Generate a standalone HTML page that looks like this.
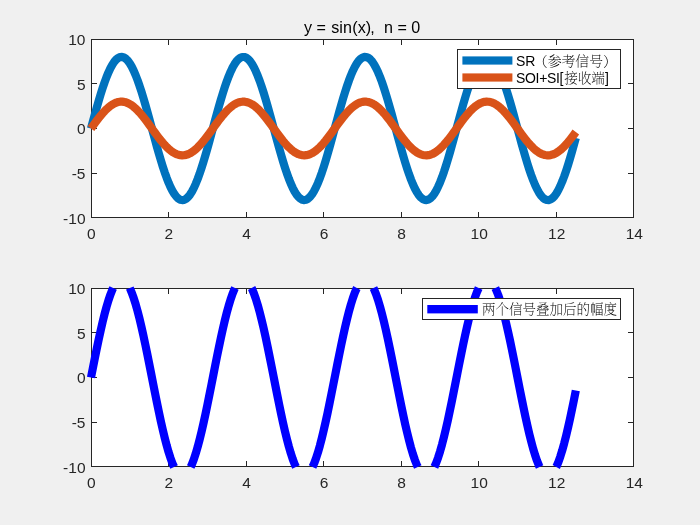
<!DOCTYPE html>
<html lang="zh"><head><meta charset="utf-8"><title>y = sin(x), n = 0</title>
<style>
html,body{margin:0;padding:0;background:#f0f0f0;}
body{width:700px;height:525px;overflow:hidden;}
svg{display:block;}
text{font-family:"Liberation Sans","Noto Serif CJK SC",sans-serif;fill:#262626;}
.tk text{font-size:15.5px;}
.tt{font-size:16.13px;fill:#000;}
.lg{font-size:14px;fill:#000;}
.cj{font-family:"Noto Serif CJK SC","Liberation Sans",serif;font-weight:200;font-size:14px;}
</style></head><body>
<svg width="700" height="525" viewBox="0 0 700 525">
<rect width="700" height="525" fill="#f0f0f0"/>
<rect x="91" y="39" width="543" height="179" fill="#fff"/>
<g fill="#262626" shape-rendering="crispEdges">
<rect x="91" y="39" width="543" height="1"/>
<rect x="91" y="217" width="543" height="1"/>
<rect x="91" y="39" width="1" height="179"/>
<rect x="633" y="39" width="1" height="179"/>
<rect x="168" y="212" width="1" height="5"/>
<rect x="168" y="40" width="1" height="5"/>
<rect x="246" y="212" width="1" height="5"/>
<rect x="246" y="40" width="1" height="5"/>
<rect x="323" y="212" width="1" height="5"/>
<rect x="323" y="40" width="1" height="5"/>
<rect x="401" y="212" width="1" height="5"/>
<rect x="401" y="40" width="1" height="5"/>
<rect x="478" y="212" width="1" height="5"/>
<rect x="478" y="40" width="1" height="5"/>
<rect x="556" y="212" width="1" height="5"/>
<rect x="556" y="40" width="1" height="5"/>
<rect x="92" y="173" width="5" height="1"/>
<rect x="628" y="173" width="5" height="1"/>
<rect x="92" y="128" width="5" height="1"/>
<rect x="628" y="128" width="5" height="1"/>
<rect x="92" y="83" width="5" height="1"/>
<rect x="628" y="83" width="5" height="1"/>
</g>
<g fill="none" stroke-linejoin="round" stroke-linecap="butt">
<path d="M91.00 128.50 L92.94 121.35 L94.88 114.28 L96.82 107.34 L98.76 100.62 L100.70 94.17 L102.64 88.07 L104.58 82.37 L106.51 77.14 L108.45 72.41 L110.39 68.25 L112.33 64.69 L114.27 61.77 L116.21 59.51 L118.15 57.94 L120.09 57.08 L122.03 56.93 L123.97 57.50 L125.91 58.77 L127.85 60.74 L129.79 63.39 L131.72 66.69 L133.66 70.61 L135.60 75.11 L137.54 80.14 L139.48 85.65 L141.42 91.59 L143.36 97.90 L145.30 104.51 L147.24 111.37 L149.18 118.40 L151.12 125.52 L153.06 132.68 L155.00 139.79 L156.94 146.80 L158.88 153.62 L160.81 160.18 L162.75 166.44 L164.69 172.31 L166.63 177.74 L168.57 182.69 L170.51 187.09 L172.45 190.90 L174.39 194.10 L176.33 196.63 L178.27 198.49 L180.21 199.65 L182.15 200.09 L184.09 199.83 L186.03 198.84 L187.96 197.16 L189.90 194.79 L191.84 191.76 L193.78 188.09 L195.72 183.83 L197.66 179.02 L199.60 173.70 L201.54 167.93 L203.48 161.77 L205.42 155.27 L207.36 148.51 L209.30 141.54 L211.24 134.45 L213.18 127.30 L215.11 120.16 L217.05 113.10 L218.99 106.19 L220.93 99.51 L222.87 93.12 L224.81 87.08 L226.75 81.46 L228.69 76.31 L230.63 71.67 L232.57 67.61 L234.51 64.15 L236.45 61.34 L238.39 59.20 L240.33 57.75 L242.26 57.00 L244.20 56.98 L246.14 57.66 L248.08 59.06 L250.02 61.14 L251.96 63.90 L253.90 67.31 L255.84 71.33 L257.78 75.92 L259.72 81.03 L261.66 86.62 L263.60 92.63 L265.54 98.99 L267.48 105.65 L269.41 112.54 L271.35 119.59 L273.29 126.73 L275.23 133.88 L277.17 140.98 L279.11 147.96 L281.05 154.74 L282.99 161.26 L284.93 167.45 L286.87 173.26 L288.81 178.61 L290.75 183.47 L292.69 187.77 L294.62 191.49 L296.56 194.57 L298.50 197.00 L300.44 198.74 L302.38 199.77 L304.32 200.10 L306.26 199.71 L308.20 198.61 L310.14 196.81 L312.08 194.32 L314.02 191.18 L315.96 187.41 L317.90 183.06 L319.84 178.16 L321.77 172.76 L323.71 166.92 L325.65 160.69 L327.59 154.15 L329.53 147.35 L331.47 140.36 L333.41 133.25 L335.35 126.09 L337.29 118.96 L339.23 111.92 L341.17 105.05 L343.11 98.42 L345.05 92.08 L346.99 86.11 L348.93 80.56 L350.86 75.49 L352.80 70.95 L354.74 66.98 L356.68 63.63 L358.62 60.93 L360.56 58.90 L362.50 57.57 L364.44 56.95 L366.38 57.04 L368.32 57.85 L370.26 59.36 L372.20 61.56 L374.14 64.43 L376.07 67.94 L378.01 72.06 L379.95 76.74 L381.89 81.94 L383.83 87.60 L385.77 93.67 L387.71 100.09 L389.65 106.80 L391.59 113.72 L393.53 120.78 L395.47 127.93 L397.41 135.08 L399.35 142.17 L401.29 149.11 L403.23 155.86 L405.16 162.33 L407.10 168.46 L409.04 174.19 L410.98 179.46 L412.92 184.23 L414.86 188.44 L416.80 192.05 L418.74 195.03 L420.68 197.34 L422.62 198.96 L424.56 199.88 L426.50 200.08 L428.44 199.57 L430.38 198.35 L432.31 196.44 L434.25 193.84 L436.19 190.59 L438.13 186.72 L440.07 182.27 L442.01 177.28 L443.95 171.81 L445.89 165.90 L447.83 159.61 L449.77 153.02 L451.71 146.18 L453.65 139.17 L455.59 132.05 L457.53 124.89 L459.46 117.77 L461.40 110.76 L463.34 103.92 L465.28 97.33 L467.22 91.05 L469.16 85.14 L471.10 79.67 L473.04 74.69 L474.98 70.24 L476.92 66.38 L478.86 63.13 L480.80 60.54 L482.74 58.63 L484.68 57.42 L486.61 56.91 L488.55 57.13 L490.49 58.05 L492.43 59.68 L494.37 62.00 L496.31 64.98 L498.25 68.60 L500.19 72.81 L502.13 77.58 L504.07 82.86 L506.01 88.60 L507.95 94.73 L509.89 101.20 L511.83 107.95 L513.76 114.90 L515.70 121.98 L517.64 129.13 L519.58 136.28 L521.52 143.35 L523.46 150.26 L525.40 156.96 L527.34 163.38 L529.28 169.45 L531.22 175.11 L533.16 180.30 L535.10 184.98 L537.04 189.09 L538.98 192.60 L540.91 195.46 L542.85 197.66 L544.79 199.16 L546.73 199.96 L548.67 200.05 L550.61 199.42 L552.55 198.08 L554.49 196.05 L556.43 193.34 L558.37 189.98 L560.31 186.01 L562.25 181.47 L564.19 176.39 L566.12 170.84 L568.06 164.87 L570.00 158.53 L571.94 151.89 L573.88 145.01 L575.82 137.98" stroke="#0072BD" stroke-width="8.2"/>
<path d="M91.00 128.50 L92.94 125.82 L94.88 123.17 L96.82 120.57 L98.76 118.04 L100.70 115.63 L102.64 113.34 L104.58 111.20 L106.51 109.24 L108.45 107.47 L110.39 105.91 L112.33 104.57 L114.27 103.47 L116.21 102.63 L118.15 102.04 L120.09 101.72 L122.03 101.66 L123.97 101.87 L125.91 102.35 L127.85 103.09 L129.79 104.09 L131.72 105.32 L133.66 106.79 L135.60 108.48 L137.54 110.36 L139.48 112.43 L141.42 114.66 L143.36 117.02 L145.30 119.51 L147.24 122.08 L149.18 124.71 L151.12 127.38 L153.06 130.07 L155.00 132.74 L156.94 135.36 L158.88 137.92 L160.81 140.38 L162.75 142.73 L164.69 144.93 L166.63 146.97 L168.57 148.82 L170.51 150.47 L172.45 151.90 L174.39 153.10 L176.33 154.05 L178.27 154.75 L180.21 155.18 L182.15 155.35 L184.09 155.25 L186.03 154.88 L187.96 154.25 L189.90 153.36 L191.84 152.22 L193.78 150.85 L195.72 149.25 L197.66 147.44 L199.60 145.45 L201.54 143.29 L203.48 140.97 L205.42 138.54 L207.36 136.00 L209.30 133.39 L211.24 130.73 L213.18 128.05 L215.11 125.37 L217.05 122.72 L218.99 120.14 L220.93 117.63 L222.87 115.23 L224.81 112.97 L226.75 110.86 L228.69 108.93 L230.63 107.19 L232.57 105.67 L234.51 104.37 L236.45 103.31 L238.39 102.51 L240.33 101.97 L242.26 101.69 L244.20 101.68 L246.14 101.94 L248.08 102.46 L250.02 103.24 L251.96 104.28 L253.90 105.55 L255.84 107.06 L257.78 108.78 L259.72 110.70 L261.66 112.79 L263.60 115.05 L265.54 117.43 L267.48 119.93 L269.41 122.52 L271.35 125.16 L273.29 127.83 L275.23 130.52 L277.17 133.18 L279.11 135.80 L281.05 138.34 L282.99 140.78 L284.93 143.11 L286.87 145.28 L288.81 147.29 L290.75 149.11 L292.69 150.73 L294.62 152.12 L296.56 153.28 L298.50 154.19 L300.44 154.84 L302.38 155.23 L304.32 155.35 L306.26 155.20 L308.20 154.79 L310.14 154.12 L312.08 153.18 L314.02 152.01 L315.96 150.59 L317.90 148.96 L319.84 147.12 L321.77 145.10 L323.71 142.91 L325.65 140.57 L327.59 138.12 L329.53 135.57 L331.47 132.95 L333.41 130.28 L335.35 127.60 L337.29 124.92 L339.23 122.28 L341.17 119.71 L343.11 117.22 L345.05 114.84 L346.99 112.60 L348.93 110.52 L350.86 108.62 L352.80 106.92 L354.74 105.43 L356.68 104.18 L358.62 103.16 L360.56 102.40 L362.50 101.90 L364.44 101.67 L366.38 101.70 L368.32 102.01 L370.26 102.57 L372.20 103.40 L374.14 104.47 L376.07 105.79 L378.01 107.34 L379.95 109.09 L381.89 111.04 L383.83 113.16 L385.77 115.44 L387.71 117.85 L389.65 120.36 L391.59 122.96 L393.53 125.61 L395.47 128.29 L397.41 130.97 L399.35 133.62 L401.29 136.23 L403.23 138.76 L405.16 141.18 L407.10 143.48 L409.04 145.63 L410.98 147.61 L412.92 149.40 L414.86 150.98 L416.80 152.33 L418.74 153.45 L420.68 154.31 L422.62 154.92 L424.56 155.27 L426.50 155.34 L428.44 155.15 L430.38 154.70 L432.31 153.98 L434.25 153.00 L436.19 151.78 L438.13 150.33 L440.07 148.66 L442.01 146.79 L443.95 144.74 L445.89 142.52 L447.83 140.17 L449.77 137.70 L451.71 135.13 L453.65 132.50 L455.59 129.83 L457.53 127.15 L459.46 124.48 L461.40 121.85 L463.34 119.28 L465.28 116.81 L467.22 114.46 L469.16 112.24 L471.10 110.19 L473.04 108.32 L474.98 106.65 L476.92 105.20 L478.86 103.99 L480.80 103.02 L482.74 102.30 L484.68 101.84 L486.61 101.66 L488.55 101.74 L490.49 102.08 L492.43 102.69 L494.37 103.56 L496.31 104.68 L498.25 106.04 L500.19 107.62 L502.13 109.41 L504.07 111.39 L506.01 113.54 L507.95 115.84 L509.89 118.26 L511.83 120.79 L513.76 123.40 L515.70 126.06 L517.64 128.74 L519.58 131.42 L521.52 134.07 L523.46 136.66 L525.40 139.17 L527.34 141.58 L529.28 143.86 L531.22 145.98 L533.16 147.93 L535.10 149.68 L537.04 151.22 L538.98 152.54 L540.91 153.61 L542.85 154.43 L544.79 155.00 L546.73 155.30 L548.67 155.33 L550.61 155.09 L552.55 154.59 L554.49 153.83 L556.43 152.81 L558.37 151.56 L560.31 150.07 L562.25 148.36 L564.19 146.46 L566.12 144.38 L568.06 142.14 L570.00 139.76 L571.94 137.27 L573.88 134.69 L575.82 132.05" stroke="#D95319" stroke-width="8.2"/>
</g>
<g class="tk">
<text x="91.30" y="238.5" text-anchor="middle">0</text>
<text x="168.87" y="238.5" text-anchor="middle">2</text>
<text x="246.44" y="238.5" text-anchor="middle">4</text>
<text x="324.01" y="238.5" text-anchor="middle">6</text>
<text x="401.59" y="238.5" text-anchor="middle">8</text>
<text x="479.16" y="238.5" text-anchor="middle">10</text>
<text x="556.73" y="238.5" text-anchor="middle">12</text>
<text x="634.30" y="238.5" text-anchor="middle">14</text>
<text x="85.5" y="223.90" text-anchor="end">-10</text>
<text x="85.5" y="179.15" text-anchor="end">-5</text>
<text x="85.5" y="134.40" text-anchor="end">0</text>
<text x="85.5" y="89.65" text-anchor="end">5</text>
<text x="85.5" y="44.90" text-anchor="end">10</text>
</g>
<rect x="91" y="288" width="543" height="179" fill="#fff"/>
<g fill="#262626" shape-rendering="crispEdges">
<rect x="91" y="288" width="543" height="1"/>
<rect x="91" y="466" width="543" height="1"/>
<rect x="91" y="288" width="1" height="179"/>
<rect x="633" y="288" width="1" height="179"/>
<rect x="168" y="461" width="1" height="5"/>
<rect x="168" y="289" width="1" height="5"/>
<rect x="246" y="461" width="1" height="5"/>
<rect x="246" y="289" width="1" height="5"/>
<rect x="323" y="461" width="1" height="5"/>
<rect x="323" y="289" width="1" height="5"/>
<rect x="401" y="461" width="1" height="5"/>
<rect x="401" y="289" width="1" height="5"/>
<rect x="478" y="461" width="1" height="5"/>
<rect x="478" y="289" width="1" height="5"/>
<rect x="556" y="461" width="1" height="5"/>
<rect x="556" y="289" width="1" height="5"/>
<rect x="92" y="422" width="5" height="1"/>
<rect x="628" y="422" width="5" height="1"/>
<rect x="92" y="377" width="5" height="1"/>
<rect x="628" y="377" width="5" height="1"/>
<rect x="92" y="332" width="5" height="1"/>
<rect x="628" y="332" width="5" height="1"/>
</g>
<g fill="none" stroke-linejoin="round" stroke-linecap="butt">
<path d="M91.00 377.50 L92.94 367.67 L94.88 357.94 L96.82 348.41 L98.76 339.16 L100.70 330.30 L102.64 321.91 L104.58 314.08 L106.51 306.88 L108.45 300.38 L110.39 294.66 L112.33 289.76 L113.18 288.00 M129.79 288.00 L131.72 292.52 L133.66 297.90 L135.60 304.09 L137.54 311.00 L139.48 318.58 L141.42 326.75 L143.36 335.42 L145.30 344.52 L147.24 353.95 L149.18 363.61 L151.12 373.41 L153.06 383.25 L155.00 393.03 L156.94 402.66 L158.88 412.03 L160.81 421.07 L162.75 429.66 L164.69 437.74 L166.63 445.21 L168.57 452.01 L170.51 458.06 L172.45 463.31 L174.08 467.00 M190.67 467.00 L191.84 464.48 L193.78 459.44 L195.72 453.58 L197.66 446.96 L199.60 439.65 L201.54 431.71 L203.48 423.24 L205.42 414.31 L207.36 405.01 L209.30 395.43 L211.24 385.68 L213.18 375.84 L215.11 366.03 L217.05 356.32 L218.99 346.83 L220.93 337.64 L222.87 328.85 L224.81 320.55 L226.75 312.82 L228.69 305.73 L230.63 299.36 L232.57 293.77 L234.51 289.02 L235.02 288.00 M251.61 288.00 L251.96 288.68 L253.90 293.36 L255.84 298.89 L257.78 305.20 L259.72 312.23 L261.66 319.91 L263.60 328.17 L265.54 336.93 L267.48 346.08 L269.41 355.56 L271.35 365.25 L273.29 375.06 L275.23 384.90 L277.17 394.66 L279.11 404.25 L281.05 413.58 L282.99 422.54 L284.93 431.06 L286.87 439.04 L288.81 446.40 L290.75 453.08 L292.69 459.00 L294.62 464.11 L295.95 467.00 M312.53 467.00 L314.02 463.69 L315.96 458.51 L317.90 452.52 L319.84 445.78 L321.77 438.36 L323.71 430.33 L325.65 421.77 L327.59 412.77 L329.53 403.42 L331.47 393.80 L333.41 384.03 L335.35 374.19 L337.29 364.38 L339.23 354.71 L341.17 345.26 L343.11 336.13 L345.05 327.42 L346.99 319.21 L348.93 311.58 L350.86 304.61 L352.80 298.37 L354.74 292.92 L356.68 288.31 L356.84 288.00 M373.44 288.00 L374.14 289.41 L376.07 294.24 L378.01 299.90 L379.95 306.33 L381.89 313.48 L383.83 321.27 L385.77 329.61 L387.71 338.44 L389.65 347.66 L391.59 357.17 L393.53 366.89 L395.47 376.72 L397.41 386.55 L399.35 396.29 L401.29 405.84 L403.23 415.11 L405.16 424.01 L407.10 432.44 L409.04 440.32 L410.98 447.58 L412.92 454.13 L414.86 459.92 L416.80 464.88 L417.80 467.00 M434.40 467.00 L436.19 462.88 L438.13 457.56 L440.07 451.43 L442.01 444.58 L443.95 437.05 L445.89 428.92 L447.83 420.28 L449.77 411.22 L451.71 401.81 L453.65 392.17 L455.59 382.38 L457.53 372.54 L459.46 362.74 L461.40 353.10 L463.34 343.70 L465.28 334.64 L467.22 326.00 L469.16 317.88 L471.10 310.36 L473.04 303.51 L474.98 297.39 L476.92 292.08 L478.69 288.00 M495.29 288.00 L496.31 290.16 L498.25 295.13 L500.19 300.93 L502.13 307.49 L504.07 314.75 L506.01 322.63 L507.95 331.07 L509.89 339.97 L511.83 349.24 L513.76 358.80 L515.70 368.54 L517.64 378.37 L519.58 388.20 L521.52 397.91 L523.46 407.43 L525.40 416.64 L527.34 425.46 L529.28 433.81 L531.22 441.59 L533.16 448.73 L535.10 455.16 L537.04 460.81 L538.98 465.63 L539.65 467.00 M556.25 467.00 L556.43 466.65 L558.37 462.04 L560.31 456.58 L562.25 450.33 L564.19 443.35 L566.12 435.72 L568.06 427.50 L570.00 418.79 L571.94 409.66 L573.88 400.21 L575.82 390.53" stroke="#0000FF" stroke-width="8.2"/>
</g>
<g class="tk">
<text x="91.30" y="487.5" text-anchor="middle">0</text>
<text x="168.87" y="487.5" text-anchor="middle">2</text>
<text x="246.44" y="487.5" text-anchor="middle">4</text>
<text x="324.01" y="487.5" text-anchor="middle">6</text>
<text x="401.59" y="487.5" text-anchor="middle">8</text>
<text x="479.16" y="487.5" text-anchor="middle">10</text>
<text x="556.73" y="487.5" text-anchor="middle">12</text>
<text x="634.30" y="487.5" text-anchor="middle">14</text>
<text x="85.5" y="472.90" text-anchor="end">-10</text>
<text x="85.5" y="428.15" text-anchor="end">-5</text>
<text x="85.5" y="383.40" text-anchor="end">0</text>
<text x="85.5" y="338.65" text-anchor="end">5</text>
<text x="85.5" y="293.90" text-anchor="end">10</text>
</g>
<text class="tt" y="33" xml:space="preserve"><tspan x="304.0">y = </tspan><tspan x="331.3">sin</tspan><tspan x="352.3">(x)</tspan><tspan x="370.3">, </tspan><tspan x="384.0">n = 0</tspan></text>
<g shape-rendering="crispEdges">
<rect x="457.5" y="49.5" width="163" height="39" fill="#fff" stroke="#262626" stroke-width="1"/>
</g><g>
<rect x="462.4" y="56.4" width="50" height="8.2" fill="#0072BD"/>
<rect x="462.4" y="73.4" width="50" height="8.2" fill="#D95319"/>
</g><g shape-rendering="crispEdges">
<rect x="422.5" y="298.5" width="198" height="21" fill="#fff" stroke="#262626" stroke-width="1"/>
</g><g>
<rect x="427.3" y="305" width="50.5" height="8.4" fill="#0000FF"/>
</g>
<text class="lg" x="516" y="65.5">SR<tspan class="cj" x="533.8" style="font-size:13.85px">（参考信号）</tspan></text>
<text class="lg" x="516" y="82.5"><tspan style="letter-spacing:-0.33px">SOI+SI</tspan>[<tspan class="cj" dx="0.7" style="font-size:13.6px">接收端</tspan>]</text>
<text class="lg cj" x="482" y="314.3" style="font-size:13.5px">两个信号叠加后的幅度</text>
</svg>
</body></html>
